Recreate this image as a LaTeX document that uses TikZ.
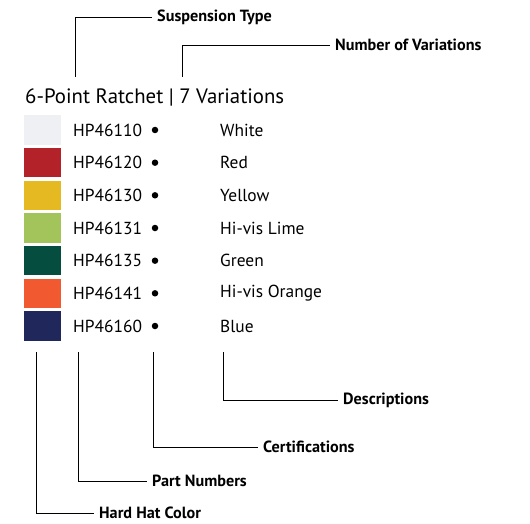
\documentclass[tikz,border=0pt]{standalone}
\usepackage{fontspec}
\setmainfont{PT Sans}
\usepackage{tikz}
\definecolor{hatwhite}{HTML}{EEF0F4}
\definecolor{hatred}{HTML}{B22228}
\definecolor{hatyellow}{HTML}{E5B921}
\definecolor{hatlime}{HTML}{A2C45A}
\definecolor{hatgreen}{HTML}{044D3F}
\definecolor{hatorange}{HTML}{F15A30}
\definecolor{hatblue}{HTML}{20275A}
\tikzset{
  swatch/.style={minimum width=37pt, minimum height=29.5pt, inner sep=0pt},
  part/.style={anchor=west, inner sep=0pt, font=\fontsize{17.4}{19}\selectfont},
  desc/.style={anchor=west, inner sep=0pt, font=\fontsize{17.4}{19}\selectfont},
  cert/.style={circle, fill=black, minimum size=6.5pt, inner sep=0pt},
  callout/.style={anchor=west, inner sep=5pt, font=\bfseries\fontsize{16.2}{18}\selectfont},
  leader/.style={line width=0.9pt}
}

\begin{document}
\begin{tikzpicture}[x=1pt, y=-1pt]
\useasboundingbox (0,0) rectangle (530,524);

\node[anchor=base west, inner sep=0pt, font=\fontsize{20.8}{24}\selectfont] (title) at (25,104) {6-Point Ratchet | 7 Variations};

\node[swatch, fill=hatwhite]  (c1) at (42.5,130) {};
\node[swatch, fill=hatred]    (c2) at (42.5,162.7) {};
\node[swatch, fill=hatyellow] (c3) at (42.5,195.3) {};
\node[swatch, fill=hatlime]   (c4) at (42.5,228) {};
\node[swatch, fill=hatgreen]  (c5) at (42.5,260.7) {};
\node[swatch, fill=hatorange] (c6) at (42.5,293.3) {};
\node[swatch, fill=hatblue]   (c7) at (42.5,326) {};

\node[part] (p1) at (73,130)   {HP46110};
\node[part] (p2) at (73,162.7) {HP46120};
\node[part] (p3) at (73,195.3) {HP46130};
\node[part] (p4) at (73,228)   {HP46131};
\node[part] (p5) at (73,260.7) {HP46135};
\node[part] (p6) at (73,293.3) {HP46141};
\node[part] (p7) at (73,326)   {HP46160};

\node[cert] (d1) at (155,130) {};
\node[cert] (d2) at (155,162.7) {};
\node[cert] (d3) at (155,195.3) {};
\node[cert] (d4) at (155,228) {};
\node[cert] (d5) at (155,260.7) {};
\node[cert] (d6) at (155,293.3) {};
\node[cert] (d7) at (155,326) {};

\node[desc] (n1) at (220,130)   {White};
\node[desc] (n2) at (220,162.7) {Red};
\node[desc] (n3) at (220,195.3) {Yellow};
\node[desc] (n4) at (220,228)   {Hi-vis Lime};
\node[desc] (n5) at (220,260.7) {Green};
\node[desc] (n6) at (220,293.3) {Hi-vis Orange};
\node[desc] (n7) at (220,326)   {Blue};

% callouts above the title
\coordinate (susp-end) at (75,77);
\coordinate (var-end) at (182,77);
\node[callout] (susp) at (152,17) {Suspension Type};
\node[callout] (var) at (330,45) {Number of Variations};
\draw[leader] (susp-end) |- (susp.west);
\draw[leader] (var-end) |- (var.west);

% callouts below the rows
\coordinate (color-end) at (36,352);
\coordinate (part-end) at (78,352);
\coordinate (cert-end) at (153,352);
\coordinate (desc-end) at (223,352);
\node[callout] (descs) at (338,400) {Descriptions};
\node[callout] (certs) at (258,447) {Certifications};
\node[callout] (parts) at (147,481) {Part Numbers};
\node[callout] (color) at (94,513) {Hard Hat Color};
\draw[leader] (desc-end) |- (descs.west);
\draw[leader] (cert-end) |- (certs.west);
\draw[leader] (part-end) |- (parts.west);
\draw[leader] (color-end) |- (color.west);
\end{tikzpicture}
\end{document}
